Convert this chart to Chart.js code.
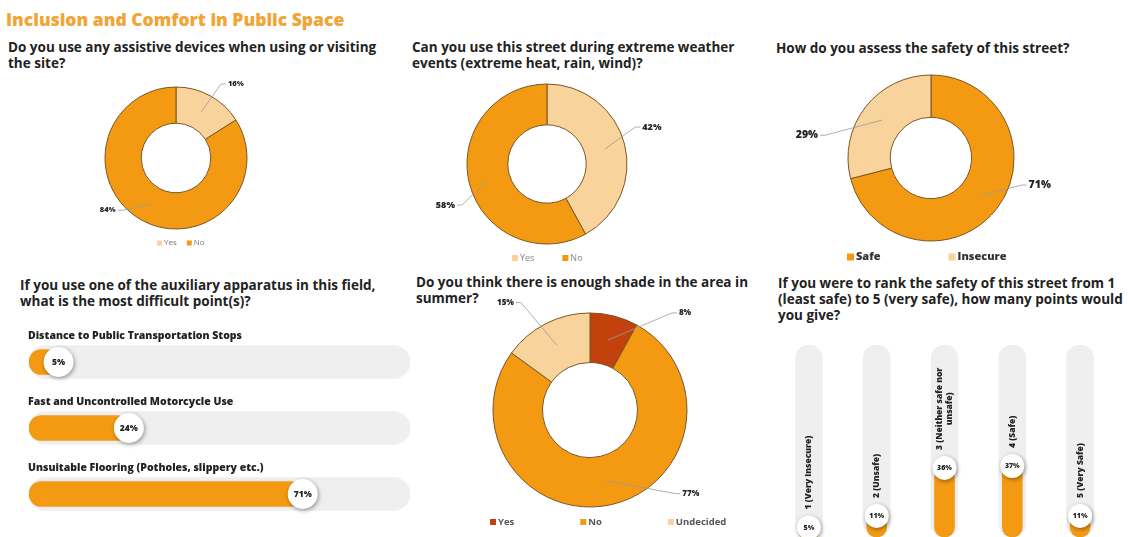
<!DOCTYPE html>
<html>
<head>
<meta charset="utf-8">
<title>Inclusion and Comfort in Public Space</title>
<script src="https://cdn.jsdelivr.net/npm/chart.js@4.4.1/dist/chart.umd.min.js"></script>
<style>
  body { margin: 0; width: 1128px; height: 537px; overflow: hidden; background: #fff; position: relative; font-family: 'Open Sans', sans-serif; }
  .title { position: absolute; left: 6px; top: 7px; font-size: 17.5px; font-weight: 800; color: #F0A534; white-space: nowrap; }
  .q { position: absolute; font-size: 13.5px; font-weight: 700; line-height: 16px; color: #222; white-space: nowrap; }
  canvas { position: absolute; }
</style>
</head>
<body>
<div class="title">Inclusion and Comfort in Public Space</div>
<div class="q" style="left:8px;top:39px">Do you use any assistive devices when using or visiting<br>the site?</div>
<div class="q" style="left:412px;top:39px">Can you use this street during extreme weather<br>events (extreme heat, rain, wind)?</div>
<div class="q" style="left:776px;top:40px">How do you assess the safety of this street?</div>
<div class="q" style="left:20px;top:277px">If you use one of the auxiliary apparatus in this field,<br>what is the most difficult point(s)?</div>
<div class="q" style="left:416px;top:274px">Do you think there is enough shade in the area in<br>summer?</div>
<div class="q" style="left:778px;top:275px">If you were to rank the safety of this street from 1<br>(least safe) to 5 (very safe), how many points would<br>you give?</div>

<canvas id="assist"></canvas>
<canvas id="weather"></canvas>
<canvas id="safety"></canvas>
<canvas id="shade"></canvas>
<canvas id="difficulty"></canvas>
<canvas id="ranking"></canvas>

<script>
// survey answers, in percent
const assistLabels = ['Yes', 'No'];
const assistValues = [16, 84];

const weatherLabels = ['Yes', 'No'];
const weatherValues = [42, 58];

const safetyLabels = ['Safe', 'Insecure'];
const safetyValues = [71, 29];

const shadeLabels = ['Yes', 'No', 'Undecided'];
const shadeValues = [8, 77, 15];

const difficultyLabels = [
  'Distance to Public Transportation Stops',
  'Fast and Uncontrolled Motorcycle Use',
  'Unsuitable Flooring (Potholes, slippery etc.)'
];
const difficultyValues = [5, 24, 71];
const difficultyTrack = [100, 100, 100];

const rankLabels = ['1 (Very Insecure)', '2 (Unsafe)', ['3 (Neither safe nor', 'unsafe)'], '4 (Safe)', '5 (Very Safe)'];
const rankValues = [5, 11, 36, 37, 11];
const rankTrack = [100, 100, 100, 100, 100];

const ORANGE = '#F39A12';
const PEACH = '#F8D39C';
const RUST = '#C2410C';
const TRACK = '#EFEFEF';
const EDGE = '#7a5624';
const FONT = "'Open Sans', sans-serif";

Chart.defaults.font.family = FONT;

// percentage labels outside the ring, with a leader line back into the slice
const calloutPlugin = {
  id: 'callouts',
  afterDatasetsDraw(chart, args, o) {
    const ctx = chart.ctx;
    const values = chart.data.datasets[0].data;
    ctx.save();
    ctx.font = `800 ${o.size}px ${FONT}`;
    ctx.textAlign = 'center';
    ctx.textBaseline = 'middle';
    chart.getDatasetMeta(0).data.forEach((arc, i) => {
      const p = arc.getProps(['x', 'y', 'startAngle', 'endAngle', 'innerRadius', 'outerRadius'], true);
      const mid = (p.startAngle + p.endAngle) / 2;
      const rm = (p.innerRadius + p.outerRadius) / 2;
      const ax = p.x + Math.cos(mid) * rm;
      const ay = p.y + Math.sin(mid) * rm;
      const spot = o.spots[i];
      const a = (spot.angle - 90) * Math.PI / 180;
      const lx = p.x + Math.cos(a) * spot.dist * p.outerRadius;
      const ly = p.y + Math.sin(a) * spot.dist * p.outerRadius;
      const text = values[i] + '%';
      const w = ctx.measureText(text).width;
      const side = lx > p.x ? -1 : 1;
      const ex = lx + side * (w / 2 + 2);
      ctx.strokeStyle = '#9a9a9a';
      ctx.lineWidth = 0.8;
      ctx.beginPath();
      ctx.moveTo(ex, ly);
      ctx.lineTo(ex + side * 5, ly);
      ctx.lineTo(ax, ay);
      ctx.stroke();
      ctx.fillStyle = '#222';
      ctx.fillText(text, lx, ly);
    });
    ctx.restore();
  }
};

// small square swatches under each ring
const swatchPlugin = {
  id: 'swatches',
  afterDraw(chart, args, o) {
    const {ctx, chartArea} = chart;
    const cx = (chartArea.left + chartArea.right) / 2;
    const cy = (chartArea.top + chartArea.bottom) / 2;
    const colors = chart.data.datasets[0].backgroundColor;
    ctx.save();
    ctx.font = `${o.weight} ${o.size}px ${FONT}`;
    ctx.textBaseline = 'middle';
    ctx.textAlign = 'left';
    let x = cx + o.dx;
    const y = cy + o.dy;
    chart.data.labels.forEach((label, i) => {
      ctx.fillStyle = colors[i];
      ctx.fillRect(x, y - o.box / 2, o.box, o.box);
      x += o.box + 2;
      ctx.fillStyle = o.color;
      ctx.fillText(label, x, y);
      x += ctx.measureText(label).width + o.gap;
    });
    ctx.restore();
  }
};

// white value badges at the end of each bar, plus the category captions
const badgePlugin = {
  id: 'badges',
  afterDatasetsDraw(chart, args, o) {
    const {ctx, chartArea} = chart;
    const flat = chart.options.indexAxis === 'y';
    const values = chart.data.datasets[0].data;
    ctx.save();
    chart.getDatasetMeta(0).data.forEach((bar, i) => {
      const lines = [].concat(chart.data.labels[i]);
      ctx.fillStyle = '#222';
      ctx.font = `800 ${o.captionSize}px ${FONT}`;
      ctx.textBaseline = 'middle';
      if (flat) {
        ctx.textAlign = 'left';
        ctx.fillText(lines.join(' '), chartArea.left - 1, bar.y - o.captionGap);
      } else {
        ctx.save();
        ctx.translate(bar.x, bar.y - o.radius - o.captionGap);
        ctx.rotate(-Math.PI / 2);
        ctx.textAlign = 'center';
        const w = Math.max(...lines.map(l => ctx.measureText(l).width));
        lines.forEach((l, k) => ctx.fillText(l, w / 2, (k - (lines.length - 1) / 2) * o.captionSize * 1.2));
        ctx.restore();
      }
      ctx.save();
      ctx.shadowColor = 'rgba(0,0,0,0.4)';
      ctx.shadowBlur = 4;
      ctx.shadowOffsetX = 1;
      ctx.shadowOffsetY = 1.5;
      ctx.fillStyle = '#fff';
      ctx.beginPath();
      ctx.arc(bar.x, bar.y, o.radius, 0, Math.PI * 2);
      ctx.fill();
      ctx.restore();
      ctx.fillStyle = '#222';
      ctx.font = `800 ${o.size}px ${FONT}`;
      ctx.textAlign = 'center';
      ctx.fillText(values[i] + '%', bar.x, bar.y + 0.5);
    });
    ctx.restore();
  }
};

function place(id, box) {
  const cv = document.getElementById(id);
  cv.width = box.w;
  cv.height = box.h;
  cv.style.left = box.x + 'px';
  cv.style.top = box.y + 'px';
  return cv;
}

function donut(id, box, centre, radius, labels, values, colors, callouts, swatches) {
  const cv = place(id, box);
  const cx = centre[0] - box.x;
  const cy = centre[1] - box.y;
  return new Chart(cv, {
    type: 'doughnut',
    data: {
      labels: labels,
      datasets: [{ data: values, backgroundColor: colors, borderColor: EDGE, borderWidth: 1 }]
    },
    options: {
      responsive: false,
      animation: false,
      radius: radius,
      cutout: '49%',
      layout: { padding: { left: cx - 20, right: box.w - cx - 20, top: cy - 20, bottom: box.h - cy - 20 } },
      plugins: {
        legend: { display: false },
        tooltip: { enabled: false },
        callouts: callouts,
        swatches: swatches
      }
    },
    plugins: [calloutPlugin, swatchPlugin]
  });
}

donut('assist', {x: 0, y: 66, w: 390, h: 190}, [176, 158], 71,
  assistLabels, assistValues, [PEACH, ORANGE],
  { size: 7.5, spots: [{angle: 39, dist: 1.34}, {angle: 232.6, dist: 1.21}] },
  { dx: -19, dy: 85, gap: 10, box: 5, size: 8, weight: 400, color: '#777' });

donut('weather', {x: 400, y: 66, w: 370, h: 205}, [547, 164], 80,
  weatherLabels, weatherValues, [PEACH, ORANGE],
  { size: 9, spots: [{angle: 70.6, dist: 1.39}, {angle: 248, dist: 1.37}] },
  { dx: -35, dy: 94, gap: 28, box: 6, size: 9, weight: 400, color: '#888' });

donut('safety', {x: 770, y: 66, w: 358, h: 205}, [931, 158], 83,
  safetyLabels, safetyValues, [ORANGE, PEACH],
  { size: 10.5, spots: [{angle: 104, dist: 1.35}, {angle: 280.4, dist: 1.52}] },
  { dx: -84, dy: 99, gap: 68, box: 7, size: 11, weight: 800, color: '#333' });

donut('shade', {x: 420, y: 290, w: 350, h: 247}, [590, 410], 97,
  shadeLabels, shadeValues, [RUST, ORANGE, PEACH],
  { size: 8, spots: [{angle: 44.4, dist: 1.40}, {angle: 129.7, dist: 1.35}, {angle: 321.8, dist: 1.41}] },
  { dx: -100, dy: 112, gap: 66, box: 6, size: 9.5, weight: 700, color: '#555' });

// horizontal progress bars
new Chart(place('difficulty', {x: 20, y: 320, w: 405, h: 215}), {
  type: 'bar',
  data: {
    labels: difficultyLabels,
    datasets: [
      { data: difficultyValues, backgroundColor: ORANGE, barThickness: 25, borderRadius: 13, borderSkipped: false, base: -3, grouped: false },
      { data: difficultyTrack, backgroundColor: TRACK, barThickness: 33, borderRadius: 17, borderSkipped: false, base: -3, grouped: false }
    ]
  },
  options: {
    indexAxis: 'y',
    responsive: false,
    animation: false,
    layout: { padding: { left: 9, right: 15, top: 9, bottom: 8 } },
    scales: {
      x: { display: false, min: -3, max: 100 },
      y: { display: false }
    },
    plugins: {
      legend: { display: false },
      tooltip: { enabled: false },
      badges: { radius: 15, size: 8.5, captionSize: 10.5, captionGap: 26 }
    }
  },
  plugins: [badgePlugin]
});

// vertical progress bars, running off the bottom edge
new Chart(place('ranking', {x: 770, y: 330, w: 358, h: 230}), {
  type: 'bar',
  data: {
    labels: rankLabels,
    datasets: [
      { data: rankValues, backgroundColor: ORANGE, barThickness: 20, borderRadius: 10, borderSkipped: false, grouped: false },
      { data: rankTrack, backgroundColor: TRACK, barThickness: 27, borderRadius: 14, borderSkipped: false, grouped: false }
    ]
  },
  options: {
    responsive: false,
    animation: false,
    layout: { padding: { left: 5, right: 14, top: 15, bottom: 23 } },
    scales: {
      x: { display: false },
      y: { display: false, min: 0, max: 100 }
    },
    plugins: {
      legend: { display: false },
      tooltip: { enabled: false },
      badges: { radius: 12, size: 7, captionSize: 8.5, captionGap: 6 }
    }
  },
  plugins: [badgePlugin]
});
</script>
</body>
</html>
